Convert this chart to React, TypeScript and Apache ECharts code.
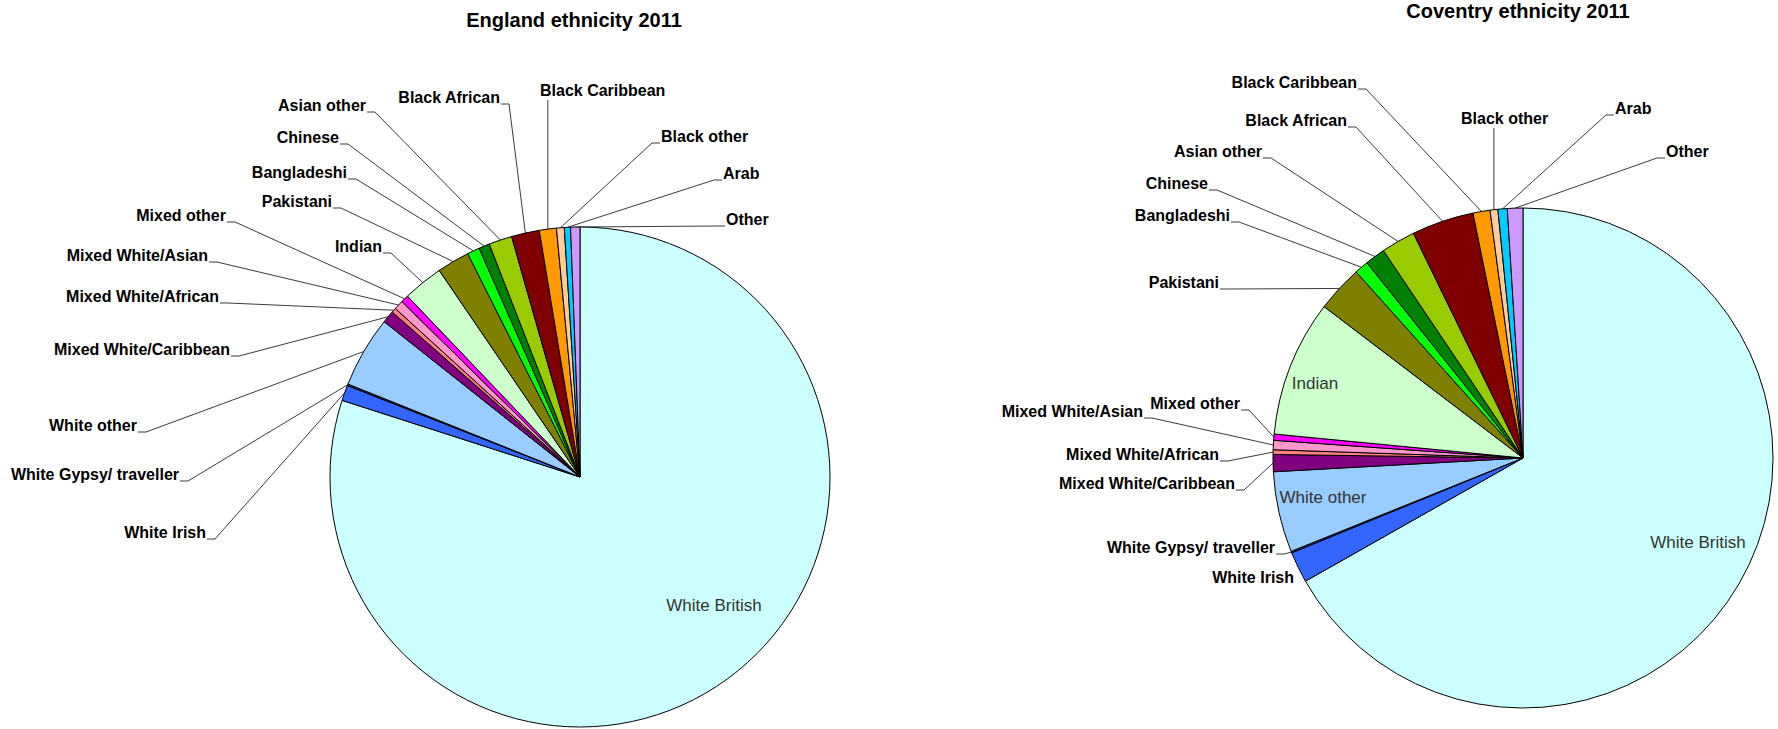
import React, { useEffect, useRef } from "react";
import * as echarts from "echarts";

// ---- data ----
const categories = [
  "White British",
  "White Irish",
  "White Gypsy/ traveller",
  "White other",
  "Mixed White/Caribbean",
  "Mixed White/African",
  "Mixed White/Asian",
  "Mixed other",
  "Indian",
  "Pakistani",
  "Bangladeshi",
  "Chinese",
  "Asian other",
  "Black African",
  "Black Caribbean",
  "Black other",
  "Arab",
  "Other",
];
const englandValues = [79.8, 1.0, 0.1, 4.6, 0.8, 0.3, 0.6, 0.5, 2.6, 2.1, 0.8, 0.7, 1.5, 1.8, 1.1, 0.5, 0.4, 0.6];
const coventryValues = [66.6, 2.0, 0.1, 5.2, 1.1, 0.3, 0.6, 0.4, 8.8, 3.0, 0.9, 1.3, 2.2, 4.0, 1.1, 0.5, 0.6, 1.0];
const chartTitles = ["England ethnicity 2011", "Coventry ethnicity 2011"];

// ---- styles / layout ----
const sliceColors = [
  "#CCFFFF", "#3366FF", "#333399", "#99CCFF", "#800080", "#FF8080", "#FF99CC", "#FF00FF",
  "#CCFFCC", "#808000", "#00FF00", "#008000", "#99CC00", "#800000", "#FF9900", "#FFCC99",
  "#00CCFF", "#CC99FF",
];
const pieCenters: [number, number][] = [
  [580, 477],
  [1523, 458],
];
const pieRadius = 250;
const titlePos: [number, number][] = [
  [574, 20],
  [1518, 11],
];
// [x, y, mode]: in = inside (centered), L = label left of pie (right aligned, tick),
// R = label right of pie (left aligned, tick), V = vertical line, N = no line
type Mode = "in" | "L" | "R" | "V" | "N";
const englandLabelLayout: [number, number, Mode][] = [
  [714, 605, "in"],
  [206, 532, "L"],
  [179, 474, "L"],
  [137, 425, "L"],
  [230, 349, "L"],
  [219, 296, "L"],
  [208, 255, "L"],
  [226, 215, "L"],
  [382, 246, "L"],
  [332, 201, "L"],
  [347, 172, "L"],
  [339, 137, "L"],
  [366, 105, "L"],
  [500, 97, "L"],
  [540, 90, "V"],
  [661, 136, "R"],
  [723, 173, "R"],
  [726, 219, "R"],
];
const coventryLabelLayout: [number, number, Mode][] = [
  [1698, 542, "in"],
  [1294, 577, "N"],
  [1275, 547, "L"],
  [1323, 497, "in"],
  [1235, 483, "L"],
  [1219, 454, "L"],
  [1143, 411, "L"],
  [1240, 403, "L"],
  [1315, 383, "in"],
  [1219, 282, "L"],
  [1230, 215, "L"],
  [1208, 183, "L"],
  [1262, 151, "L"],
  [1347, 120, "L"],
  [1357, 82, "L"],
  [1461, 118, "V"],
  [1615, 108, "R"],
  [1666, 151, "R"],
];

const FONT = "'Liberation Sans', Arial, sans-serif";

function edgePoints(values: number[], center: [number, number], r: number): [number, number][] {
  const total = values.reduce((a, b) => a + b, 0);
  let cum = 0;
  return values.map((v) => {
    const th = ((cum + v / 2) / total) * Math.PI * 2;
    cum += v;
    return [center[0] + r * Math.sin(th), center[1] - r * Math.cos(th)];
  });
}

function buildSeries(values: number[], idx: number, layout: [number, number, Mode][]) {
  const pts = edgePoints(values, pieCenters[idx], pieRadius);
  return {
    type: "pie",
    center: pieCenters[idx],
    radius: pieRadius,
    startAngle: 90,
    clockwise: true,
    avoidLabelOverlap: false,
    silent: true,
    itemStyle: { borderColor: "#000", borderWidth: 1 },
    label: {
      show: true,
      position: "outside",
      width: 400,
      overflow: "none",
      fontFamily: FONT,
      fontSize: 16,
      fontWeight: "bold",
      color: "#000",
    },
    labelLine: { show: true, length: 10, length2: 10, lineStyle: { color: "#3a3a3a", width: 1 } },
    labelLayout: (p: any) => {
      const [x, y, mode] = layout[p.dataIndex];
      const p0 = pts[p.dataIndex];
      if (mode === "in") return { x, y, align: "center", verticalAlign: "middle" };
      if (mode === "N") return { x, y, align: "right", verticalAlign: "middle" };
      if (mode === "L")
        return {
          x, y, align: "right", verticalAlign: "middle",
          labelLinePoints: [p0, [x + 9, y + 7], [x + 1, y + 7]],
        };
      if (mode === "R")
        return {
          x, y, align: "left", verticalAlign: "middle",
          labelLinePoints: [p0, [x - 9, y + 7], [x - 1, y + 7]],
        };
      return {
        x, y, align: "left", verticalAlign: "middle",
        labelLinePoints: [p0, [p0[0], y + 10]],
      };
    },
    data: categories.map((name, i) => {
      const mode = layout[i][2];
      const item: any = { name, value: values[i], itemStyle: { color: sliceColors[i] } };
      if (mode === "in") {
        item.label = { position: "inside", fontWeight: "normal", fontSize: 17, color: "#333" };
        item.labelLine = { show: false };
      } else if (mode === "N") {
        item.labelLine = { show: false };
      }
      return item;
    }),
  };
}

export default function App() {
  const ref = useRef<HTMLDivElement>(null);
  useEffect(() => {
    if (!ref.current) return;
    const chart = echarts.init(ref.current, undefined, { renderer: "svg" });
    chart.setOption({
      animation: false,
      backgroundColor: "#fff",
      graphic: chartTitles.map((t, i) => ({
        type: "text",
        x: titlePos[i][0],
        y: titlePos[i][1],
        style: {
          text: t,
          font: `bold 20px ${FONT}`,
          fill: "#000",
          textAlign: "center",
          textVerticalAlign: "middle",
        },
      })),
      series: [
        buildSeries(englandValues, 0, englandLabelLayout),
        buildSeries(coventryValues, 1, coventryLabelLayout),
      ],
    });
    return () => chart.dispose();
  }, []);
  return (
    <div
      ref={ref}
      style={{ position: "fixed", left: 0, top: 0, width: 1778, height: 729 }}
    />
  );
}
